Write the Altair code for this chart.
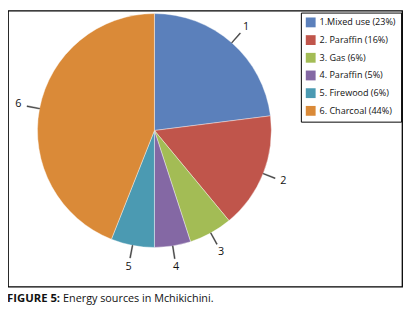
import altair as alt
import pandas as pd

nums = ["1", "2", "3", "4", "5", "6"]
legend_labels = ["1.Mixed use (23%)", "2. Paraffin (16%)", "3. Gas (6%)",
                 "4. Paraffin (5%)", "5. Firewood (6%)", "6. Charcoal (44%)"]
values = [23, 16, 6, 5, 6, 44]
colors = ["#5B80BB", "#C0554B", "#A3BC55", "#8468A4", "#4B9AB2", "#DA8A38"]
caption_bold = ["FIGURE 5:"]
caption_rest = ["Energy sources in Mchikichini."]

df = pd.DataFrame({"idx": list(range(len(values))), "num": nums,
                   "cat": legend_labels, "value": values})

base = alt.Chart(df).transform_window(
    cum="sum(value)", sort=[alt.SortField("idx")], frame=[None, 0]
).transform_calculate(
    start="datum.cum - datum.value",
    mid="datum.cum - datum.value / 2",
    m1="datum.cum - datum.value / 2 - 0.06",
    m2="datum.cum - datum.value / 2 + 0.06",
)

tscale = alt.Scale(domain=[0, 100], range=[0, 6.283185307179586])
cx = alt.value(149)
cy = alt.value(122)

pie = base.mark_arc(radius=119, stroke="white", strokeWidth=0.4).encode(
    theta=alt.Theta("start:Q", scale=tscale, stack=None),
    theta2="cum:Q",
    color=alt.Color(
        "cat:N",
        scale=alt.Scale(domain=legend_labels, range=colors),
        sort=legend_labels,
        legend=alt.Legend(
            title=None, orient="none", legendX=298, legendY=2,
            symbolType="square", symbolSize=100, symbolStrokeWidth=0,
            labelFont="Open Sans", labelFontSize=9.2, labelColor="#111",
            labelOffset=4, rowPadding=7, padding=5, strokeColor="black",
            labelLimit=0,
        ),
    ),
    x=cx, y=cy,
)

leader = base.mark_arc(radius=132, radius2=119, color="#404040",
                       stroke="#404040", strokeWidth=0.5).encode(
    theta=alt.Theta("m1:Q", scale=tscale, stack=None),
    theta2="m2:Q",
    x=cx, y=cy,
)

labels = base.mark_text(radius=141, font="Open Sans", fontSize=11,
                        color="#111").encode(
    theta=alt.Theta("mid:Q", scale=tscale, stack=None),
    text="num:N",
    x=cx, y=cy,
)

cap1 = alt.Chart(pd.DataFrame({"t": caption_bold})).mark_text(
    font="Open Sans", fontSize=11.5, fontWeight="bold", align="left",
    baseline="alphabetic", color="#111"
).encode(text="t:N", x=alt.value(-1), y=alt.value(296))

cap2 = alt.Chart(pd.DataFrame({"t": caption_rest})).mark_text(
    font="Open Sans", fontSize=11, align="left",
    baseline="alphabetic", color="#111"
).encode(text="t:N", x=alt.value(56), y=alt.value(296))

chart = alt.layer(pie, leader, labels, cap1, cap2).properties(
    width=401, height=281,
    autosize=alt.AutoSizeParams(type="none"),
    padding={"left": 0, "top": 0, "right": 6, "bottom": 22},
).configure_view(stroke="black", strokeWidth=1.3)

chart.save("out.html", embed_options={"renderer": "svg", "actions": False})
